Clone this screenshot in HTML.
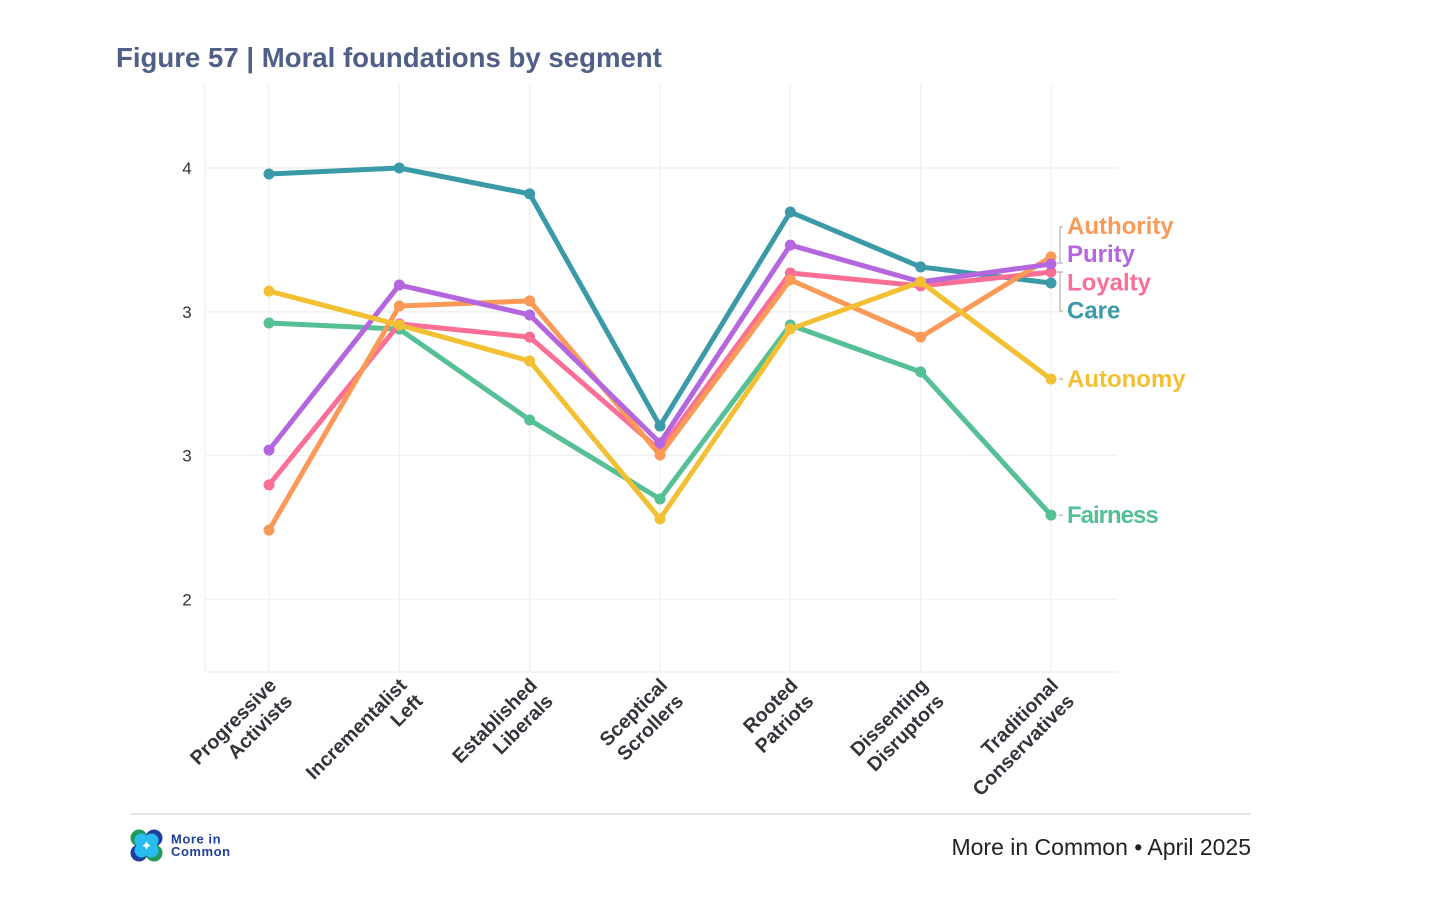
<!DOCTYPE html>
<html lang="en">
<head>
<meta charset="utf-8">
<title>Figure 57 | Moral foundations by segment</title>
<style>
  html, body { margin: 0; padding: 0; background: #fff; }
  body { width: 1456px; height: 903px; overflow: hidden; }
  svg { display: block; font-family: "Liberation Sans", sans-serif; }
</style>
</head>
<body>
<svg id="chart" width="1456" height="903" viewBox="0 0 1456 903" xmlns="http://www.w3.org/2000/svg">
  <text x="116" y="67" font-size="27.6" font-weight="700" fill="#4f5f87">Figure 57 | Moral foundations by segment</text>
  <g id="grid"></g>
  <g id="y-axis"></g>
  <g id="x-axis"></g>
  <g id="series"></g>
  <g id="labels"></g>
  <g fill="none" stroke="#b4b4b4" stroke-width="1.2">
    <path d="M1063 227H1060V263H1063M1060 263H1057"/>
    <path d="M1057 272H1060V311H1063M1060 272H1063"/>
  </g>
  <line x1="130" y1="814" x2="1251" y2="814" stroke="#e6e6e6" stroke-width="2"/>
  <g>
    <circle cx="139" cy="838" r="8.5" fill="#1f9b5a"/>
    <circle cx="154" cy="838" r="8.5" fill="#1f3f9c"/>
    <circle cx="139" cy="853" r="8.5" fill="#1f3f9c"/>
    <circle cx="154" cy="853" r="8.500" fill="#1f9b5a"/>
    <circle cx="141.500" cy="840.500" r="7" fill="#27bdf0"/>
    <circle cx="151.500" cy="840.500" r="7" fill="#27bdf0"/>
    <circle cx="141.500" cy="850.500" r="7" fill="#27bdf0"/>
    <circle cx="151.500" cy="850.500" r="7" fill="#27bdf0"/>
    <path d="M146.500 841.500L148 844L150.500 845.500L148 847L146.500 849.500L145 847L142.500 845.500L145 844Z" fill="#fff"/>
    <text x="171" y="843.500" font-size="13" font-weight="700" fill="#1f3f9c" letter-spacing=".55">More in</text>
    <text x="171" y="856" font-size="13" font-weight="700" fill="#1f3f9c" letter-spacing=".55">Common</text>
  </g>
  <text x="1251" y="855" text-anchor="end" font-size="23" fill="#222">More in Common • April 2025</text>
</svg>
<script>
const categories = [
  ["Progressive", "Activists"],
  ["Incrementalist", "Left"],
  ["Established", "Liberals"],
  ["Sceptical", "Scrollers"],
  ["Rooted", "Patriots"],
  ["Dissenting", "Disruptors"],
  ["Traditional", "Conservatives"]
];
const yTickValues = [4, 3.5, 3, 2.5];
const yTickLabels = ["4", "3", "3", "2"];
const careValues      = [3.979, 4.000, 3.910, 3.103, 3.847, 3.656, 3.600];
const fairnessValues  = [3.461, 3.440, 3.124, 2.849, 3.454, 3.291, 2.793];
const loyaltyValues   = [2.898, 3.458, 3.412, 3.019, 3.635, 3.590, 3.638];
const authorityValues = [2.741, 3.520, 3.538, 3.002, 3.611, 3.412, 3.691];
const purityValues    = [3.019, 3.593, 3.489, 3.044, 3.732, 3.604, 3.666];
const autonomyValues  = [3.572, 3.454, 3.329, 2.780, 3.440, 3.604, 3.266];
const seriesNames = ["Care", "Fairness", "Loyalty", "Authority", "Purity", "Autonomy"];

const seriesData = [careValues, fairnessValues, loyaltyValues, authorityValues, purityValues, autonomyValues];
const seriesColors = ["#3a9aa8", "#55bf95", "#fb6f97", "#fb9a57", "#b366de", "#f4c033"];

const NS = "http://www.w3.org/2000/svg";
const plot = { left: 205, right: 1117, top: 85, bottom: 672 };
const firstX = 269, stepX = 130.33;
function xScale(i) { return firstX + i * stepX; }
function yScale(v) { return 168 + (4 - v) * 287.6; }
function make(parent, tag, attrs) {
  const el = document.createElementNS(NS, tag);
  for (const k in attrs) el.setAttribute(k, attrs[k]);
  parent.appendChild(el);
  return el;
}
function slug(s) { return s.toLowerCase().replace(/[^a-z0-9]+/g, "-"); }

const grid = document.getElementById("grid");
const gridStyle = { stroke: "#f1f1f1", "stroke-width": 1.4 };
yTickValues.forEach(function (v) {
  const l = make(grid, "line", Object.assign({ x1: plot.left, x2: plot.right, y1: yScale(v), y2: yScale(v) }, gridStyle));
  
  
});
categories.forEach(function (c, i) {
  const l = make(grid, "line", Object.assign({ x1: xScale(i), x2: xScale(i), y1: plot.top, y2: plot.bottom }, gridStyle));
  
  
});
const axisLeft = make(grid, "line", Object.assign({ x1: plot.left, x2: plot.left, y1: plot.top, y2: plot.bottom }, gridStyle));


const axisBottom = make(grid, "line", Object.assign({ x1: plot.left, x2: plot.right, y1: plot.bottom, y2: plot.bottom }, gridStyle));



const yAxis = document.getElementById("y-axis");
yTickValues.forEach(function (v, i) {
  const t = make(yAxis, "text", { x: 187, y: yScale(v) + 6, "text-anchor": "middle", "font-size": 17, fill: "#333" });
  t.textContent = yTickLabels[i];
  
  
});

const xAxis = document.getElementById("x-axis");
categories.forEach(function (c, i) {
  const g = make(xAxis, "g", { transform: "translate(" + (xScale(i) + 8.5) + ",686.5) rotate(-45)" });
  
  
  c.forEach(function (line, j) {
    const t = make(g, "text", { x: 0, y: j * 22.5, "text-anchor": "end", "font-size": 19.6, "font-weight": 700, fill: "#33343a" });
    t.textContent = line;
    
    
  });
});

const seriesGroup = document.getElementById("series");
seriesData.forEach(function (vals, s) {
  const g = make(seriesGroup, "g", {});
  
  
  const pts = vals.map(function (v, i) { return xScale(i) + "," + yScale(v); }).join(" ");
  const line = make(g, "polyline", { points: pts, fill: "none", stroke: seriesColors[s], "stroke-width": 5, "stroke-linejoin": "round", "stroke-linecap": "round" });
  
  
  vals.forEach(function (v, i) {
    const dot = make(g, "circle", { cx: xScale(i), cy: yScale(v), r: 5.5, fill: seriesColors[s] });
    
    
  });
});

const stackedLabelOrder = ["Authority", "Purity", "Loyalty", "Care"];
const directLabels = ["Autonomy", "Fairness"];
const labelsGroup = document.getElementById("labels");
const labelX = 1067;
function addLabel(name, baseline) {
  const s = seriesNames.indexOf(name);
  const t = make(labelsGroup, "text", { x: labelX, y: baseline, "font-size": 24, "font-weight": 700, fill: seriesColors[s] });
  if (name === "Fairness") t.setAttribute("letter-spacing", "-1");
  t.textContent = name;
  
  
}
stackedLabelOrder.forEach(function (name, i) { addLabel(name, 234 + i * 28.2); });
directLabels.forEach(function (name) {
  const s = seriesNames.indexOf(name);
  const last = seriesData[s][seriesData[s].length - 1];
  addLabel(name, yScale(last) + 8);
  const leader = make(labelsGroup, "line", { x1: 1059, x2: 1063, y1: yScale(last), y2: yScale(last), stroke: "#b4b4b4", "stroke-width": 1.2 });
  
  
});
</script>
</body>
</html>
